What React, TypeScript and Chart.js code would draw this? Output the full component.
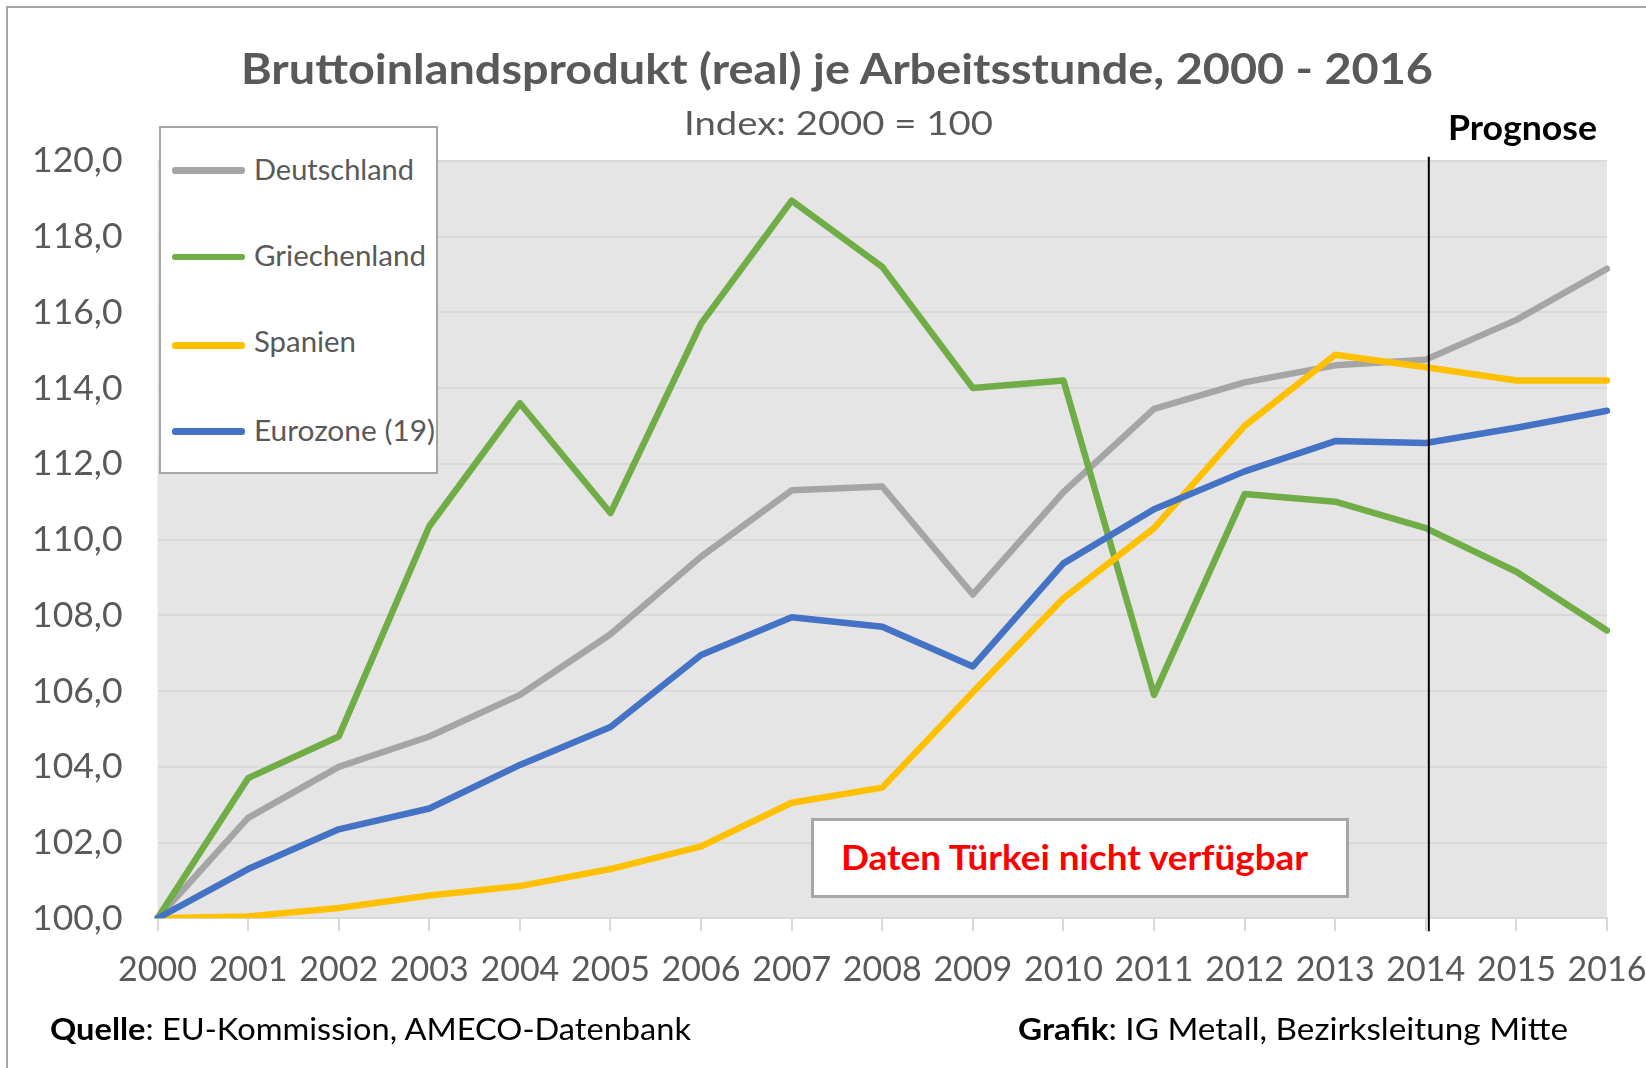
import React, { useEffect, useLayoutEffect, useRef } from 'react';
import { Chart, registerables } from 'chart.js';

Chart.register(...registerables);

// ---------- data ----------
const years = ['2000', '2001', '2002', '2003', '2004', '2005', '2006', '2007', '2008', '2009', '2010', '2011', '2012', '2013', '2014', '2015', '2016'];
const deutschland = [100, 102.65, 104.0, 104.8, 105.9, 107.5, 109.55, 111.3, 111.4, 108.55, 111.25, 113.45, 114.15, 114.6, 114.75, 115.8, 117.15];
const griechenland = [100, 103.7, 104.8, 110.35, 113.6, 110.7, 115.7, 118.95, 117.2, 114.0, 114.2, 105.9, 111.2, 111.0, 110.3, 109.15, 107.6];
const spanien = [100, 100.05, 100.27, 100.6, 100.85, 101.3, 101.9, 103.05, 103.45, 105.97, 108.45, 110.3, 113.0, 114.88, 114.55, 114.2, 114.2];
const eurozone = [100, 101.3, 102.35, 102.9, 104.05, 105.05, 106.95, 107.95, 107.7, 106.65, 109.37, 110.8, 111.8, 112.6, 112.55, 112.95, 113.4];
const seriesNames = ['Deutschland', 'Griechenland', 'Spanien', 'Eurozone (19)'];
const seriesColors = ['#a5a5a5', '#70ad47', '#ffc000', '#4472c4'];
const seriesValues = [deutschland, griechenland, spanien, eurozone];
const yMin = 100;
const yMax = 120;
const yStep = 2;
const prognoseYear = '2014';

const titleText = 'Bruttoinlandsprodukt (real) je Arbeitsstunde, 2000 - 2016';
const subtitleText = 'Index: 2000 = 100';
const prognoseText = 'Prognose';
const noteText = 'Daten Türkei nicht verfügbar';

const FONT = 'Lato';

type FitProps = {
  left: number;
  baseline: number;
  width: number;
  size: number;
  weight?: number;
  color: string;
  children: React.ReactNode;
};

function FitText({ left, baseline, width, size, weight = 400, color, children }: FitProps) {
  const ref = useRef<HTMLDivElement>(null);
  useLayoutEffect(() => {
    const el = ref.current;
    if (!el) return;
    const c = document.createElement('canvas').getContext('2d');
    if (c) {
      c.font = `${weight} ${size}px ${FONT}`;
      const m = c.measureText('Hg');
      const asc = m.fontBoundingBoxAscent;
      const desc = m.fontBoundingBoxDescent;
      if (asc && desc) {
        el.style.lineHeight = `${asc + desc}px`;
        el.style.top = `${baseline - asc}px`;
      }
    }
    el.style.transform = 'none';
    const w = el.getBoundingClientRect().width;
    if (w > 0) el.style.transform = `scaleX(${width / w})`;
  });
  return (
    <div
      ref={ref}
      style={{
        position: 'absolute',
        left,
        top: baseline - size * 0.887,
        fontFamily: FONT,
        fontSize: size,
        fontWeight: weight,
        color,
        whiteSpace: 'nowrap',
        transformOrigin: '0 0',
        lineHeight: `${size * 1.2}px`,
      }}
    >
      {children}
    </div>
  );
}

const plotBackground = {
  id: 'plotBackground',
  beforeDraw(chart: any) {
    const { ctx, chartArea: a } = chart;
    ctx.save();
    ctx.fillStyle = '#e5e5e5';
    ctx.fillRect(a.left, a.top, a.right - a.left, a.bottom - a.top);
    ctx.restore();
  },
};

const prognoseLine = {
  id: 'prognoseLine',
  afterDatasetsDraw(chart: any) {
    const { ctx, chartArea: a } = chart;
    const x = chart.scales.x.getPixelForValue(years.indexOf(prognoseYear)) + 3;
    ctx.save();
    ctx.strokeStyle = '#000000';
    ctx.lineWidth = 2;
    ctx.beginPath();
    ctx.moveTo(x, a.top - 4);
    ctx.lineTo(x, a.bottom + 13);
    ctx.stroke();
    ctx.restore();
  },
};

function LineChart() {
  const canvasRef = useRef<HTMLCanvasElement>(null);
  useEffect(() => {
    const canvas = canvasRef.current;
    if (!canvas) return;
    const chart = new Chart(canvas, {
      type: 'line',
      data: {
        labels: years,
        datasets: seriesValues.map((vals, i) => ({
          label: seriesNames[i],
          data: vals,
          borderColor: seriesColors[i],
          backgroundColor: seriesColors[i],
          borderWidth: 6.5,
          pointRadius: 0,
          tension: 0,
          fill: false,
          borderJoinStyle: 'round',
          borderCapStyle: 'round',
          order: seriesValues.length - i,
        })),
      },
      options: {
        responsive: false,
        animation: false,
        devicePixelRatio: 1,
        layout: { padding: { top: 160.8, right: 39, left: 0, bottom: 0 } },
        plugins: {
          legend: { display: false },
          title: { display: false },
          tooltip: { enabled: false },
        },
        scales: {
          x: {
            grid: {
              display: true,
              drawOnChartArea: false,
              drawTicks: true,
              tickLength: 13,
              color: '#d9d9d9',
              lineWidth: 2,
            },
            border: { display: true, color: '#d9d9d9', width: 2 },
            ticks: {
              font: { family: FONT, size: 34 },
              color: '#595959',
              padding: 18,
              maxRotation: 0,
              minRotation: 0,
              autoSkip: false,
            },
            afterFit(s: any) {
              s.height = 1068 - 918.3;
              s.paddingLeft = 0;
              s.paddingRight = 0;
            },
          },
          y: {
            min: yMin,
            max: yMax,
            ticks: {
              stepSize: yStep,
              font: { family: FONT, size: 35.5 },
              color: '#595959',
              padding: 35,
              callback: (v: any) => Number(v).toFixed(1).replace('.', ','),
            },
            grid: { color: '#d9d9d9', lineWidth: 2, drawTicks: false },
            border: { display: false },
            afterFit(s: any) {
              s.width = 157.5;
              s.paddingTop = 0;
              s.paddingBottom = 0;
            },
          },
        },
      } as any,
      plugins: [plotBackground, prognoseLine],
    });
    return () => chart.destroy();
  }, []);
  return (
    <canvas
      ref={canvasRef}
      width={1646}
      height={1068}
      style={{ position: 'absolute', left: 0, top: 0, width: 1646, height: 1068 }}
    />
  );
}

const legendRows = [
  { center: 170, baseline: 180, width: 160 },
  { center: 256.7, baseline: 266, width: 172 },
  { center: 345, baseline: 351.7, width: 102 },
  { center: 431, baseline: 440.7, width: 181 },
];

export default function App() {
  return (
    <div
      style={{
        position: 'fixed',
        left: 0,
        top: 0,
        width: 1646,
        height: 1068,
        overflow: 'hidden',
        background: '#ffffff',
      }}
    >
      <div
        style={{
          position: 'absolute',
          left: 6,
          top: 6,
          width: 1700,
          height: 1100,
          borderTop: '2px solid #a6a6a6',
          borderLeft: '2px solid #a6a6a6',
        }}
      />
      <LineChart />
      <FitText left={241} baseline={84} width={1192} size={42} weight={700} color="#595959">
        {titleText}
      </FitText>
      <FitText left={684} baseline={134.5} width={309} size={33} color="#595959">
        {subtitleText}
      </FitText>
      <FitText left={1448} baseline={140} width={149} size={35} weight={700} color="#000000">
        {prognoseText}
      </FitText>

      {/* legend */}
      <div
        style={{
          position: 'absolute',
          left: 159,
          top: 126,
          width: 279,
          height: 348,
          boxSizing: 'border-box',
          border: '2px solid #a6a6a6',
          background: '#ffffff',
        }}
      />
      {legendRows.map((r, i) => (
        <React.Fragment key={seriesNames[i]}>
          <div
            style={{
              position: 'absolute',
              left: 172,
              top: r.center - 3,
              width: 73,
              height: 6.5,
              borderRadius: 3,
              background: seriesColors[i],
            }}
          />
          <FitText left={254} baseline={r.baseline} width={r.width} size={28} color="#595959">
            {seriesNames[i]}
          </FitText>
        </React.Fragment>
      ))}

      {/* note box */}
      <div
        style={{
          position: 'absolute',
          left: 811,
          top: 818,
          width: 538,
          height: 80,
          boxSizing: 'border-box',
          border: '3px solid #a6a6a6',
          background: '#ffffff',
        }}
      />
      <FitText left={841} baseline={870} width={467} size={35} weight={700} color="#ff0000">
        {noteText}
      </FitText>

      {/* footer */}
      <FitText left={50} baseline={1040} width={641} size={30} color="#000000">
        <span style={{ fontWeight: 700 }}>Quelle</span>: EU-Kommission, AMECO-Datenbank
      </FitText>
      <FitText left={1018} baseline={1040} width={550} size={30} color="#000000">
        <span style={{ fontWeight: 700 }}>Grafik</span>: IG Metall, Bezirksleitung Mitte
      </FitText>
    </div>
  );
}
